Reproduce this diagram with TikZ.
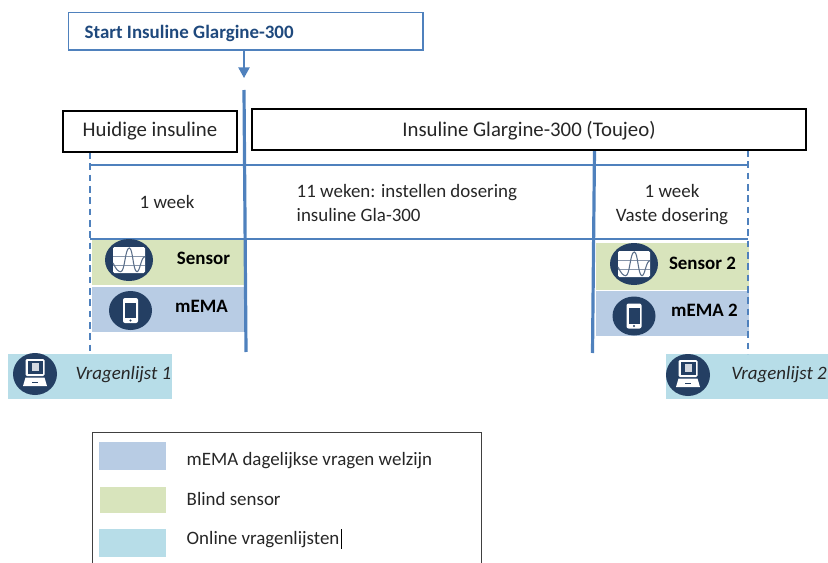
\documentclass[tikz,border=0pt]{standalone}
\usepackage{fontspec}
\setmainfont{Carlito}
\usetikzlibrary{arrows.meta}
\definecolor{linkblue}{HTML}{4F81BD}
\definecolor{headblue}{HTML}{1F497D}
\definecolor{icondark}{HTML}{243F63}
\definecolor{memafill}{HTML}{B8CCE4}
\definecolor{sensorfill}{HTML}{D8E4BC}
\definecolor{onlinefill}{HTML}{B7DDE8}
\definecolor{inktext}{HTML}{262626}
\tikzset{
  px/.style={x=0.75pt,y=-0.75pt},
  blackbox/.style={draw=black,line width=1.1pt,fill=white,anchor=center,text=inktext,font=\fontsize{15.6}{18}\selectfont},
  thickline/.style={draw=linkblue,line width=2.4pt},
  thinline/.style={draw=linkblue,line width=1.1pt},
  dashline/.style={draw=linkblue,line width=1.1pt,dash pattern=on 5pt off 3.5pt},
  plain/.style={text=inktext,font=\fontsize{14.2}{18}\selectfont,align=left},
  bandtxt/.style={text=black,font=\bfseries\fontsize{14.2}{17}\selectfont},
  questiontxt/.style={text=inktext,font=\itshape\fontsize{14.2}{17}\selectfont},
  band/.style={draw=none,inner sep=0pt},
}
\newcommand{\rectpx}[5]{\node[band,fill=#5,minimum width=#3*0.75pt,minimum height=#4*0.75pt,anchor=north west] (#1) at #2 {};}
\newcommand{\iconsensor}[2]{%
  \begin{scope}[shift={#1}]
    \fill[icondark] (0,0) ellipse (24 and 21);
    \fill[white,rounded corners=1pt] (-16,-13) rectangle (16,13);
    \draw[icondark!55,line width=0.6pt] (-16,-4) -- (16,-4) (-16,5) -- (16,5);
    \draw[icondark!75,line width=0.8pt] (-16,3) .. controls (-13,9) and (-11,11.7) .. (-8.3,11.7) .. controls (-4,11.7) and (-4,-12) .. (0.3,-12) .. controls (4,-12) and (4,11.7) .. (8,11.7) .. controls (11,11.7) and (12,-3.3) .. (16,-3.3);
  \end{scope}}
\newcommand{\iconphone}[2]{%
  \begin{scope}[shift={#1}]
    \fill[icondark] (0,0) ellipse (21.5 and 19.5);
    \fill[white,rounded corners=1.5pt] (-7.5,-12.5) rectangle (7.5,12.5);
    \fill[icondark] (-5.5,-8) rectangle (5.5,7.5);
    \fill[icondark] (0,10) circle (1.2);
  \end{scope}}
\newcommand{\iconlaptop}[2]{%
  \begin{scope}[shift={#1}]
    \fill[icondark] (0,0) ellipse (22 and 21);
    \fill[white,rounded corners=1pt] (-9.5,-15) rectangle (9.5,2);
    \fill[icondark] (-7.5,-13) rectangle (7.5,0);
    \fill[white!80!icondark] (-3.5,-11) rectangle (3.5,-3);
    \fill[white] (-9.5,3.5) -- (9.5,3.5) -- (12,12) -- (-12,12) -- cycle;
    \draw[icondark,line width=0.6pt] (-3,8.5) -- (3,8.5);
  \end{scope}}
\begin{document}
\begin{tikzpicture}[px]
\useasboundingbox (0,0) rectangle (828,563);
% coloured bands
\rectpx{sensorA}{(92,240)}{152}{45}{sensorfill}
\rectpx{memaA}{(92,287)}{153}{45}{memafill}
\rectpx{quesA}{(8,354)}{164}{45}{onlinefill}
\rectpx{sensorB}{(596,243)}{153}{47}{sensorfill}
\rectpx{memaB}{(596,291)}{153}{45}{memafill}
\rectpx{quesB}{(666,354)}{162}{45}{onlinefill}
% timeline frame
\coordinate (ftl) at (90,165);
\coordinate (ftr) at (748,165);
\coordinate (fbl) at (90,239);
\coordinate (fbr) at (748,239);
\coordinate (dashLtop) at (90,152);
\coordinate (dashLend) at (90,354);
\coordinate (dashRtop) at (748,150);
\coordinate (dashRend) at (748,354);
\draw[thinline] (ftl) -- (ftr) (fbl) -- (fbr);
\draw[dashline] (dashLtop) -- (dashLend);
\draw[dashline] (dashRtop) -- (dashRend);
% thick time markers
\coordinate (startT) at (244,90);
\coordinate (startB) at (246,352);
\coordinate (endT) at (594.5,150);
\coordinate (endB) at (592.5,353);
\draw[thickline] (startT) -- (startB);
\draw[thickline] (endT) -- (endB);
% header boxes
\node[draw=linkblue,line width=1.1pt,minimum width=354.5*0.75pt,minimum height=37.5*0.75pt,inner sep=0pt] (start) at (245.75,31.25) {};
\node[anchor=west,text=headblue,font=\bfseries\fontsize{14.2}{17}\selectfont] (startL) at (80,33) {Start Insuline Glargine-300};
\node[blackbox,minimum width=174*0.75pt,minimum height=41*0.75pt,inner sep=0pt] (huidig) at (150,131.5) {\raisebox{-4pt}[0pt][0pt]{Huidige insuline}};
\node[blackbox,minimum width=554*0.75pt,minimum height=41*0.75pt,inner sep=0pt] (toujeo) at (529,129.5) {\raisebox{-5pt}[0pt][0pt]{Insuline Glargine-300 (Toujeo)}};
\coordinate (arrowEnd) at (244,78);
\draw[draw=linkblue,line width=1.1pt,-{Triangle[length=8pt,width=8.5pt]}] (start.south -| arrowEnd) -- (arrowEnd);
% period labels
\node[plain] (w1) at (167,202) {1 week};
\node[plain,anchor=west] (w11) at (292,203) {11 weken: instellen dosering\\insuline Gla-300};
\node[plain,align=center] (w1b) at (672,205) {1 week\\Vaste dosering};
% band labels
\node[bandtxt] (sensorAL) at (203.5,258) {Sensor};
\node[bandtxt] (memaAL) at (201.5,306) {mEMA};
\node[bandtxt] (sensorBL) at (702.5,263) {Sensor 2};
\node[bandtxt] (memaBL) at (704.5,310) {mEMA 2};
\node[questiontxt] (quesAL) at (123.5,375) {Vragenlijst 1};
\node[questiontxt] (quesBL) at (779,375) {Vragenlijst 2};
% icons
\iconsensor{(129,260)}{}
\iconphone{(130.5,310.5)}{}
\iconlaptop{(35,374)}{}
\iconsensor{(634,264)}{}
\iconphone{(634,316)}{}
\iconlaptop{(688,375)}{}
% legend
\coordinate (legTL) at (92,432);
\coordinate (legTR) at (481,432);
\coordinate (legBL) at (92,563);
\coordinate (legBR) at (481,563);
\draw[draw=black!75,line width=0.7pt] (legBL) -- (legTL) -- (legTR) -- (legBR);
\rectpx{legA}{(99,442)}{67}{28}{memafill}
\rectpx{legB}{(100,487)}{66}{26}{sensorfill}
\rectpx{legC}{(99,529)}{67}{28}{onlinefill}
\node[plain,anchor=west] (legAL) at (182,461) {mEMA dagelijkse vragen welzijn};
\node[plain,anchor=west] (legBL2) at (182,499) {Blind sensor};
\node[plain,anchor=west] (legCL) at (182,540) {Online vragenlijsten};
\coordinate (curT) at (341,529);
\coordinate (curB) at (341,549);
\draw[black,line width=0.6pt] (curT) -- (curB);
\end{tikzpicture}
\end{document}
